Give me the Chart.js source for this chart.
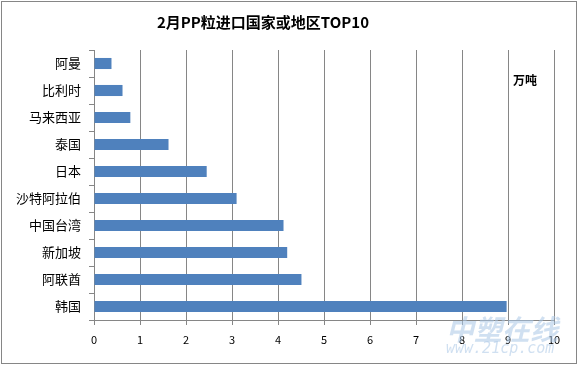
<!DOCTYPE html>
<html>
<head>
<meta charset="utf-8">
<script src="https://cdn.jsdelivr.net/npm/chart.js@4"></script>
<style>
  html, body { margin: 0; padding: 0; background: #fff; }
  #wrap { width: 579px; height: 366px; position: relative; }
</style>
</head>
<body>
<div id="wrap"><canvas id="chartImport"></canvas></div>
<script>
// data
const chartTitle = '2月PP粒进口国家或地区TOP10';
const unitLabel = '万吨';
const countries = ['阿曼', '比利时', '马来西亚', '泰国', '日本', '沙特阿拉伯', '中国台湾', '新加坡', '阿联酋', '韩国'];
const importVolume = [0.38, 0.62, 0.79, 1.62, 2.45, 3.1, 4.12, 4.2, 4.51, 8.97];
const xTicks = [0, 1, 2, 3, 4, 5, 6, 7, 8, 9, 10];

const font = '"Noto Sans CJK SC", "Noto Sans", sans-serif';

// title, unit text, outer border and the watermark
const decor = {
    id: 'decor',
    beforeDraw(chart) {
        const c = chart.ctx;
        c.save();
        c.fillStyle = '#fff';
        c.fillRect(0, 0, chart.width, chart.height);
        c.restore();
    },
    afterDraw(chart) {
        const c = chart.ctx;
        c.save();
        c.strokeStyle = '#868686';
        c.lineWidth = 1;
        c.strokeRect(1.5, 1.5, 575, 362);

        c.fillStyle = '#000';
        c.textAlign = 'center';
        c.textBaseline = 'middle';
        c.font = 'bold 15px ' + font;
        c.fillText(chartTitle, 263, 22);

        c.font = 'bold 12px ' + font;
        c.textAlign = 'left';
        c.fillText(unitLabel, 513, 80);

        // watermark
        c.globalAlpha = 0.55;
        c.fillStyle = '#a9c6e6';
        c.font = 'italic bold 28px ' + font;
        c.fillText('中塑在线', 446, 329);
        c.font = 'italic 15px "DejaVu Sans Mono", monospace';
        c.fillText('www.21cp.com', 446, 349);
        c.restore();
    }
};

const ctx = document.getElementById('chartImport').getContext('2d');
const chart = new Chart(ctx, {
    type: 'bar',
    data: {
        labels: countries,
        datasets: [{
            label: unitLabel,
            data: importVolume,
            backgroundColor: '#4F81BD',
            borderWidth: 0,
            categoryPercentage: 1,
            barPercentage: 0.41
        }]
    },
    options: {
        indexAxis: 'y',
        responsive: true,
        maintainAspectRatio: false,
        animation: false,
        layout: { padding: { top: 50, right: 25, left: 0, bottom: 0 } },
        plugins: {
            legend: { display: false },
            title: { display: false },
            tooltip: { enabled: false }
        },
        scales: {
            x: {
                min: 0,
                max: 10,
                afterBuildTicks(scale) {
                    scale.ticks = xTicks.map(v => ({ value: v }));
                },
                afterFit(scale) { scale.height = 46; },
                grid: {
                    color: '#868686',
                    lineWidth: 1,
                    tickLength: 5,
                    drawTicks: true
                },
                border: { color: '#868686' },
                ticks: {
                    color: '#000',
                    font: { family: font, size: 11 },
                    padding: 8,
                    maxRotation: 0
                }
            },
            y: {
                afterFit(scale) { scale.width = 94; },
                grid: {
                    offset: true,
                    drawOnChartArea: false,
                    color: '#868686',
                    tickLength: 5
                },
                border: { color: '#868686' },
                ticks: {
                    color: '#000',
                    font: { family: font, size: 13 },
                    padding: 8
                }
            }
        }
    },
    plugins: [decor]
});
</script>
</body>
</html>
